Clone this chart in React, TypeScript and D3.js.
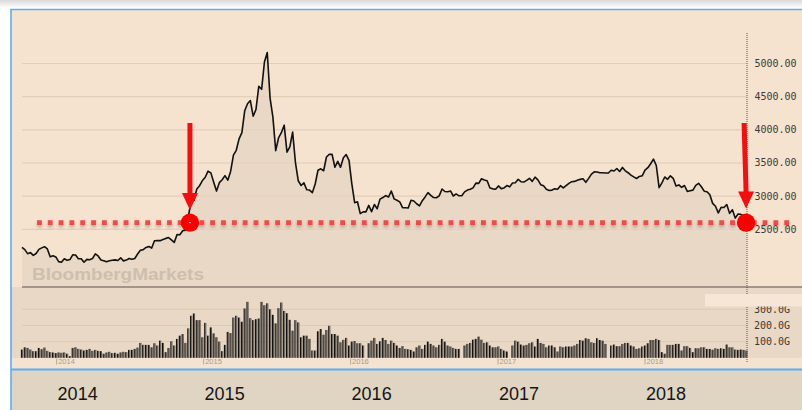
import React from "react";
import * as d3 from "d3";

// Weekly data (week starting Monday), first week 2013-10-07
const firstWeek = "2013-10-07";
const lastWeek = "2018-09-10";

const close2013 = [2228, 2193, 2133, 2149, 2106, 2135, 2197, 2220, 2237, 2204, 2085, 2101];
const close2014 = [2083, 2013, 2004, 2055, 2033, 2044, 2115, 2113, 2056, 2057, 2004, 2047, 2042, 2058, 2130, 2098, 2036, 2027, 2011, 2026, 2034, 2039, 2030, 2070, 2024, 2036, 2060, 2047, 2059, 2127, 2185, 2194, 2226, 2240, 2217, 2327, 2331, 2329, 2347, 2363, 2375, 2341, 2302, 2420, 2418, 2478, 2487, 2683, 2938, 2938, 3108, 3157];
const close2015 = [3235, 3285, 3376, 3351, 3210, 3076, 3203, 3247, 3310, 3241, 3373, 3617, 3691, 3863, 3958, 4287, 4394, 4441, 4205, 4308, 4658, 4611, 5023, 5166, 4478, 4192, 3687, 3877, 3957, 4070, 3664, 3744, 3965, 3507, 3232, 3160, 3200, 3097, 3092, 3053, 3183, 3391, 3412, 3383, 3590, 3632, 3630, 3436, 3525, 3435, 3578, 3627];
const close2016 = [3539, 3186, 2901, 2916, 2737, 2763, 2763, 2860, 2767, 2874, 2810, 2955, 2979, 3009, 2985, 3078, 2959, 2938, 2914, 2827, 2826, 2822, 2938, 2927, 2885, 2854, 2932, 2988, 3054, 3012, 2979, 2976, 3004, 3108, 3070, 3067, 3078, 3002, 3033, 3005, 3005, 3064, 3091, 3104, 3125, 3196, 3193, 3262, 3243, 3232, 3123, 3110, 3104];
const close2017 = [3154, 3113, 3123, 3159, 3140, 3197, 3202, 3253, 3218, 3212, 3237, 3269, 3223, 3287, 3246, 3173, 3155, 3103, 3085, 3091, 3110, 3105, 3158, 3123, 3158, 3192, 3218, 3222, 3238, 3253, 3262, 3209, 3268, 3332, 3367, 3365, 3353, 3353, 3349, 3349, 3391, 3379, 3417, 3372, 3433, 3382, 3353, 3318, 3290, 3266, 3297, 3307];
const close2018 = [3391, 3429, 3488, 3558, 3462, 3129, 3199, 3289, 3254, 3307, 3269, 3153, 3169, 3131, 3160, 3071, 3082, 3091, 3163, 3193, 3141, 3075, 3067, 3022, 2890, 2847, 2747, 2831, 2829, 2874, 2740, 2795, 2669, 2730, 2725, 2703, 2682];

// Weekly volume in G
const volume2013 = [51, 65, 61, 51, 41, 41, 61, 53, 63, 43, 35, 33];
const volume2014 = [29, 33, 31, 33, 25, 10, 61, 65, 55, 51, 45, 49, 55, 43, 49, 43, 41, 25, 33, 37, 29, 31, 25, 33, 37, 35, 49, 49, 55, 63, 92, 80, 80, 80, 65, 90, 76, 106, 92, 35, 61, 102, 76, 117, 137, 147, 92, 182, 260, 274, 233, 233];
const volume2015 = [127, 216, 137, 188, 151, 127, 100, 41, 80, 160, 153, 249, 260, 249, 223, 305, 346, 245, 233, 239, 243, 346, 325, 337, 300, 266, 213, 307, 342, 290, 276, 235, 168, 233, 219, 127, 137, 137, 117, 45, 45, 164, 178, 143, 172, 198, 147, 147, 137, 96, 111, 123];
const volume2016 = [76, 100, 104, 90, 90, 76, 0, 90, 106, 123, 86, 102, 123, 110, 86, 106, 92, 76, 61, 72, 55, 53, 49, 39, 65, 76, 55, 80, 100, 86, 76, 65, 80, 117, 100, 76, 70, 61, 55, 55, 0, 76, 86, 92, 112, 117, 131, 112, 92, 96, 76, 65, 65];
const volume2017 = [70, 55, 45, 39, 0, 76, 106, 100, 82, 76, 80, 90, 96, 70, 117, 92, 86, 65, 76, 76, 65, 39, 70, 65, 70, 70, 70, 76, 86, 110, 106, 121, 117, 96, 92, 121, 110, 106, 86, 0, 76, 82, 72, 72, 86, 92, 92, 76, 70, 55, 59, 70];
const volume2018 = [76, 90, 110, 110, 117, 110, 35, 25, 80, 80, 80, 86, 86, 45, 72, 72, 61, 35, 59, 59, 65, 65, 55, 55, 50, 59, 55, 59, 55, 82, 65, 65, 51, 49, 51, 49, 45];

const priceTicks = [2500, 3000, 3500, 4000, 4500, 5000];
const volumeTicks = [100, 200, 300];
const yearTicks = [2014, 2015, 2016, 2017, 2018];
const markerLevel = 2600;
const markerDates = ["2014-11-28", "2018-09-09"];

const W = 802;
const H = 410;

function parseDay(s: string) {
  const [y, m, d] = s.split("-").map(Number);
  return new Date(y, m - 1, d);
}

export default function App() {
  const closes = [...close2013, ...close2014, ...close2015, ...close2016, ...close2017, ...close2018];
  const volumes = [...volume2013, ...volume2014, ...volume2015, ...volume2016, ...volume2017, ...volume2018];
  const start = parseDay(firstWeek);
  const data = closes.map((c, i) => ({
    date: d3.timeDay.offset(start, i * 7),
    close: c,
    volume: volumes[i] ?? 0,
  }));

  const x = d3.scaleTime().domain([start, parseDay(lastWeek)]).range([22, 746.5]);
  const y = d3.scaleLinear().domain([2500, 5000]).range([229.3, 63.5]);
  const yv = d3.scaleLinear().domain([0, 300]).range([357.8, 309.3]);

  const plotLeft = 22;
  const plotRight = 747;
  const sepY = 287;

  const area = d3
    .area<any>()
    .x((d) => x(d.date))
    .y0(sepY)
    .y1((d) => y(d.close))(data) as string;
  const line = d3
    .line<any>()
    .x((d) => x(d.date))
    .y((d) => y(d.close))(data) as string;

  const my = y(markerLevel);
  const markers = markerDates.map((s) => x(parseDay(s)));

  const fmtPrice = d3.format(".2f");
  const fmtVol = (v: number) => d3.format(".1f")(v) + "G";

  return (
    <svg
      width={W}
      height={H}
      viewBox={`0 0 ${W} ${H}`}
      style={{ position: "absolute", left: 0, top: 0, display: "block" }}
    >
      <defs>
        <linearGradient id="topShadow" x1="0" y1="0" x2="0" y2="1">
          <stop offset="0" stopColor="#d9d9d9" />
          <stop offset="1" stopColor="#ffffff" />
        </linearGradient>
        <filter id="dotShadow" filterUnits="userSpaceOnUse" x={0} y={190} width={W} height={60}>
          <feDropShadow dx="0" dy="2.2" stdDeviation="1.5" floodColor="#5a3a2a" floodOpacity="0.35" />
        </filter>
      </defs>

      <rect x={0} y={0} width={W} height={H} fill="#ffffff" />
      <rect x={0} y={0} width={W} height={8} fill="url(#topShadow)" />

      {/* panels */}
      <rect x={11} y={10} width={W - 11} height={sepY - 10} fill="#f5e3d0" />
      <rect x={11} y={sepY} width={W - 11} height={358 - sepY} fill="#e9d8c5" />
      <rect x={11} y={358} width={W - 11} height={11.5} fill="#f4e3d0" />
      <rect x={11} y={370} width={W - 11} height={H - 370} fill="#e0d4c2" />

      {/* price gridlines */}
      {priceTicks.map((t) => (
        <line key={t} x1={plotLeft} x2={plotRight} y1={y(t)} y2={y(t)} stroke="#e6d3bf" strokeWidth={1.2} />
      ))}

      <path d={area} fill="#e9d8c5" />
      {priceTicks.map((t) => (
        <line key={"g" + t} x1={plotLeft} x2={plotRight} y1={y(t)} y2={y(t)} stroke="#dfcbb6" strokeWidth={1} opacity={0.5} />
      ))}

      <text
        x={32}
        y={280}
        fontFamily="Liberation Sans, Arial, sans-serif"
        fontWeight="bold"
        fontSize={17}
        fill="#cdbfad"
        textLength={172}
        lengthAdjust="spacingAndGlyphs"
      >
        BloombergMarkets
      </text>

      <path d={line} fill="none" stroke="#111" strokeWidth={1.6} strokeLinejoin="round" />

      {/* separator */}
      <line x1={plotLeft} x2={W} y1={sepY} y2={sepY} stroke="#8a7e74" strokeWidth={1.5} />

      {/* volume gridlines */}
      {volumeTicks.map((t) => (
        <line key={t} x1={plotLeft} x2={plotRight} y1={yv(t)} y2={yv(t)} stroke="#dccab6" strokeWidth={1} />
      ))}

      {/* volume bars */}
      {data.map((d, i) =>
        d.volume > 0 ? (
          <g key={i}>
            <rect x={x(d.date) - 1.1} y={yv(d.volume)} width={1.2} height={yv(0) - yv(d.volume)} fill="#141210" />
            <rect x={x(d.date) + 0.1} y={yv(d.volume)} width={1} height={yv(0) - yv(d.volume)} fill="#5f5852" />
          </g>
        ) : null
      )}

      {/* small year ticks */}
      {yearTicks.map((yr) => {
        const xx = x(new Date(yr, 0, 1));
        return (
          <g key={yr}>
            <line x1={xx} x2={xx} y1={358.5} y2={364.5} stroke="#b5a797" strokeWidth={1} />
            <text x={xx + 1.5} y={364.3} fontFamily="Liberation Sans, Arial, sans-serif" fontSize={7.5} fill="#a89a8b">
              {yr}
            </text>
          </g>
        );
      })}

      {/* right axis labels */}
      {priceTicks.map((t) => (
        <text
          key={t}
          x={754.5}
          y={y(t) + 3.5}
          fontFamily="DejaVu Sans Mono, monospace"
          fontSize={10}
          fill="#3a3a3a"
        >
          {fmtPrice(t)}
        </text>
      ))}
      {volumeTicks.map((t) => (
        <text
          key={t}
          x={754}
          y={yv(t) + 3.5}
          fontFamily="DejaVu Sans Mono, monospace"
          fontSize={10}
          fill="#3a3a3a"
        >
          {fmtVol(t)}
        </text>
      ))}

      {/* vertical dotted line */}
      <line x1={plotRight} x2={plotRight} y1={33} y2={362} stroke="#555" strokeWidth={1} strokeDasharray="1,1" />

      {/* light label box */}
      <rect x={705} y={294} width={W - 705} height={12.5} fill="#f5e6d6" />

      {/* red dotted level line */}
      <line
        x1={37}
        x2={795}
        y1={my}
        y2={my}
        stroke="#f24848"
        strokeWidth={4.8}
        strokeDasharray="4.8,6.03"
        filter="url(#dotShadow)"
      />

      {/* arrows */}
      {markers.map((mx, i) => {
        const tipY = i === 0 ? 210 : 208.5;
        const headTop = tipY - 17;
        const shaftX = i === 0 ? mx : mx - 2;
        return (
          <g key={"a" + i}>
            <polygon
              points={`${shaftX - 2.5},123 ${shaftX + 2.5},123 ${mx + 2.5},${headTop + 1} ${mx - 2.5},${headTop + 1}`}
              fill="#f70d0d"
            />
            <polygon points={`${mx - 8},${headTop} ${mx + 8},${headTop} ${mx},${tipY}`} fill="#f70d0d" />
          </g>
        );
      })}

      {/* circles */}
      {markers.map((mx, i) => (
        <g key={"c" + i}>
          <circle cx={mx} cy={my} r={9.2} fill="#f80000" />
          {i === 0 ? <rect x={mx - 0.8} y={my - 0.5} width={1.6} height={1} fill="#ffffff" /> : null}
        </g>
      ))}

      {/* blue frame */}
      <line x1={10.5} x2={W} y1={9.5} y2={9.5} stroke="#5aaef2" strokeWidth={1.6} />
      <line x1={11} x2={11} y1={9} y2={H} stroke="#5aaef2" strokeWidth={1.6} />
      <line x1={11} x2={W} y1={369.5} y2={369.5} stroke="#5aaef2" strokeWidth={1.8} />

      {/* bottom year labels */}
      {yearTicks.map((yr) => (
        <text
          key={"y" + yr}
          x={x(new Date(yr, 0, 1)) + 21}
          y={400}
          textAnchor="middle"
          fontFamily="Liberation Sans, Arial, sans-serif"
          fontSize={18}
          fill="#151515"
        >
          {yr}
        </text>
      ))}
    </svg>
  );
}
